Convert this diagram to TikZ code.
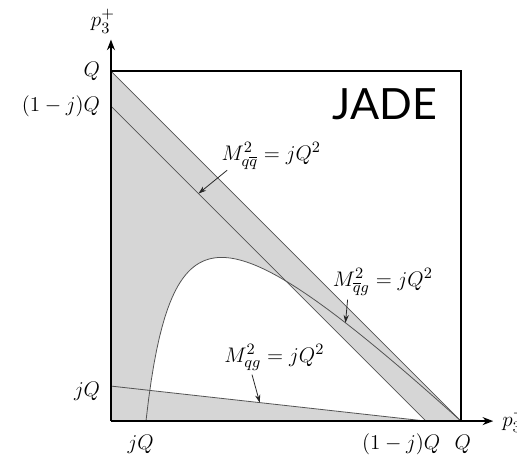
\documentclass[tikz,border=0pt]{standalone}
\usepackage{amsmath}
\usepackage{fontspec}
\newfontfamily\jadefont{Lato}
\usetikzlibrary{calc,arrows.meta}

\tikzset{
  phase/.style={gray!65!black, line width=0.45pt},
  pointer/.style={-{Stealth[length=4.5pt,width=3pt]}, line width=0.45pt, gray!30!black},
  lbl/.style={font=\fontsize{12.5}{15}\selectfont, inner sep=1pt}
}

\begin{document}
\begin{tikzpicture}[x=7cm, y=7cm]
  \useasboundingbox (-0.317,-0.103) rectangle (1.16,1.203);

  \coordinate (O) at (0,0);
  \coordinate (Qx) at (1,0);
  \coordinate (Qy) at (0,1);
  \coordinate (jx) at (0.1,0);
  \coordinate (jy) at (0,0.1);
  \coordinate (ax) at (0.9,0);
  \coordinate (ay) at (0,0.9);
  \coordinate (P) at (0.5,0.4);

  % allowed region
  \fill[gray!32] (O) -- (Qy) -- (Qx) -- cycle;

  % three-jet region
  \fill[white] plot[domain=0.1109:0.5, samples=60] (\x, {1.1-\x-0.1/\x})
    -- (ax) -- cycle;

  % boundaries
  \draw[phase] (Qy) -- (Qx);
  \draw[phase] (ay) -- (ax);
  \draw[phase] (jy) -- (ax);
  \draw[phase] plot[domain=0.1:1, samples=120] (\x, {1.1-\x-0.1/\x});

  % frame and axes
  \draw[line width=1pt] (Qy) -- (1,1) -- (Qx);
  \draw[line width=1pt, -{Stealth[length=6pt,width=4.5pt]}] (O) -- (0,1.09);
  \draw[line width=1pt, -{Stealth[length=6pt,width=4.5pt]}] (O) -- (1.092,0);

  \node[lbl] (py) at (-0.023,1.143) {$p_3^+$};
  \node[lbl, anchor=west] (px) at (1.112,0.002) {$p_3^-$};

  \node[lbl, anchor=east] (lQy) at (-0.025,1) {$Q$};
  \node[lbl, anchor=east] (lay) at (-0.025,0.9) {$(1-j)Q$};
  \node[lbl, anchor=east] (ljy) at (-0.025,0.085) {$jQ$};
  \node[lbl] (ljx) at (0.085,-0.066) {$jQ$};
  \node[lbl] (lax) at (0.829,-0.066) {$(1-j)Q$};
  \node[lbl] (lQx) at (1.005,-0.066) {$Q$};

  \node[font=\jadefont\fontsize{24.5}{28}\selectfont, inner sep=0pt] (jade) at (0.783,0.905) {JADE};

  % mass lines
  \coordinate (tqq) at (0.25,0.65);
  \coordinate (tqbg) at (0.67,{1.1-0.67-0.1/0.67});
  \coordinate (tqg) at (0.425,{0.1*(0.9-0.425)/0.9});

  \node[lbl, anchor=west] (mqq) at (0.31,0.757) {$M_{q\overline{q}}^2 = jQ^2$};
  \node[lbl, anchor=west] (mqbg) at (0.628,0.397) {$M_{\overline{q}g}^2 = jQ^2$};
  \node[lbl, anchor=west] (mqg) at (0.318,0.182) {$M_{qg}^2 = jQ^2$};

  \draw[pointer] ($(mqq.south west)+(0.022,0.004)$) -- (tqq);
  \draw[pointer] ($(mqbg.south west)+(0.048,-0.006)$) -- (tqbg);
  \draw[pointer] ($(mqg.south west)+(0.085,-0.006)$) -- (tqg);
\end{tikzpicture}
\end{document}
